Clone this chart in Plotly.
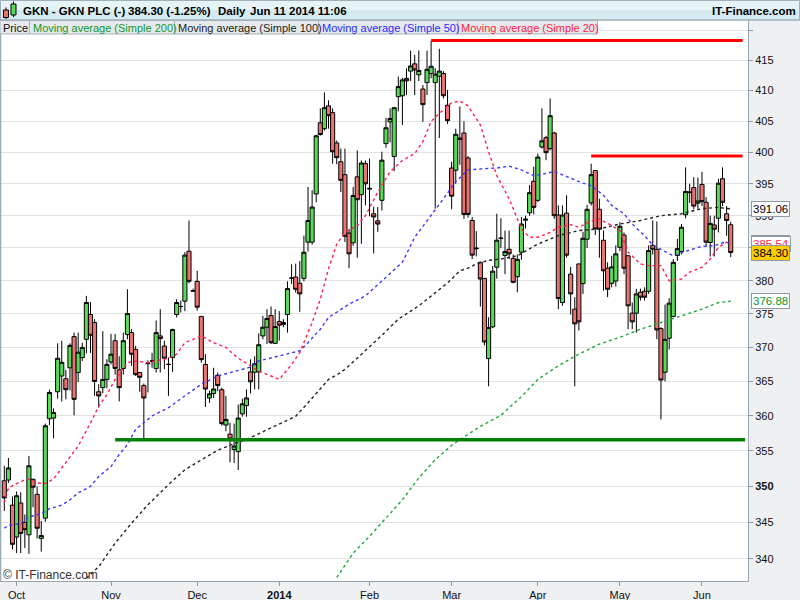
import math
import pandas as pd
import plotly.graph_objects as go

# ---------------- data ----------------
holidays = ["2013-12-25", "2013-12-26", "2014-01-01", "2014-04-18",
            "2014-04-21", "2014-05-05", "2014-05-26"]
dates = [d for d in pd.bdate_range("2013-09-26", "2014-06-11")
         if d.strftime("%Y-%m-%d") not in holidays]

opens = [350.8,350.9,347.4,343.0,347.7,345.0,343.3,351.0,348.9,342.8,
         345.6,359.6,359.7,363.5,365.8,365.4,367.0,371.6,366.3,368.5,
         371.2,374.9,373.7,363.5,364.1,365.3,367.85,371.0,366.7,366.9,
         371.9,372.2,369.7,366.3,364.4,367.6,368.0,366.9,371.7,370.2,
         367.5,368.5,374.9,376.1,376.9,384.5,378.4,379.9,374.6,367.5,
         362.6,363.25,365.9,363.8,358.7,357.4,355.2,354.9,360.3,361.5,
         366.4,366.35,366.4,371.7,373.0,374.75,370.6,373.85,373.4,374.9,
         380.4,380.55,379.6,380.35,385.9,385.9,393.4,404.75,403.8,407.5,
         406.4,401.5,398.5,396.45,387.3,385.8,396.1,393.3,398.2,394.3,
         390.3,389.2,392.4,401.4,404.9,399.35,409.0,409.15,412.0,413.2,
         414.4,412.6,410.25,411.3,412.8,411.3,412.35,412.8,407.6,397.5,
         397.15,402.3,403.1,399.1,389.25,385.0,382.8,380.35,368.35,373.05,
         382.05,386.5,383.85,384.8,383.4,380.6,384.35,389.3,390.45,395.4,
         392.4,400.85,402.35,400.6,403.1,390.1,376.7,390.4,381.0,375.7,
         382.55,379.55,386.35,392.0,397.1,391.0,386.2,381.9,379.6,379.95,
         385.1,387.0,383.8,375.1,375.1,378.25,378.4,378.4,385.4,384.8,
         372.8,366.35,371.35,374.6,383.85,384.45,390.15,393.6,394.4,391.95,
         394.9,392.1,385.85,388.55,389.6,395.8,390.3,388.6]
highs = [352.9,354.0,348.6,349.3,349.2,346.1,354.3,351.1,350.0,345.2,
         358.9,363.8,361.1,370.6,371.0,366.7,370.6,372.2,372.2,370.7,
         377.7,376.8,374.2,364.6,372.4,368.25,372.0,372.0,368.7,372.2,
         378.7,372.7,370.2,366.4,364.7,368.1,369.2,374.0,375.7,371.0,
         368.5,372.8,377.2,377.0,384.35,389.25,378.8,381.5,374.7,369.0,
         363.65,367.0,366.3,364.1,362.9,359.0,358.9,361.65,362.5,363.85,
         368.25,368.7,372.1,374.7,375.7,376.1,375.7,375.4,374.2,379.9,
         382.5,382.6,383.0,386.9,394.5,394.0,402.85,407.1,409.7,408.4,
         407.1,401.9,400.6,400.6,387.95,394.5,400.3,398.7,398.7,399.0,
         391.4,391.35,400.1,405.55,407.1,407.35,412.3,412.1,413.65,416.6,
         415.9,416.6,410.9,416.6,418.2,413.7,416.9,413.2,410.1,398.5,
         403.8,407.4,405.0,399.4,389.8,387.6,382.9,380.4,374.5,382.25,
         390.3,389.6,387.7,387.7,384.0,384.0,389.8,390.0,394.8,397.7,
         399.8,407.1,402.65,408.7,403.3,391.6,391.6,393.2,382.1,377.5,
         382.6,387.5,391.7,398.2,397.15,392.65,387.7,382.8,383.8,385.4,
         389.0,387.4,383.9,376.7,378.75,378.8,379.0,385.4,389.25,389.1,
         373.0,376.4,377.35,383.3,386.4,388.7,397.6,395.0,396.05,396.0,
         396.9,392.9,390.0,390.0,395.8,397.6,391.5,389.05]
lows = [346.6,350.5,341.3,340.8,340.8,341.5,340.7,347.1,342.8,341.0,
        345.1,358.7,356.8,362.5,362.1,362.4,363.7,360.1,364.9,368.0,
        369.1,369.2,362.9,361.2,363.3,364.0,367.5,366.0,362.1,366.0,
        371.2,367.3,365.8,363.5,356.7,363.4,367.0,366.3,366.3,366.8,
        362.9,366.4,374.45,375.2,375.4,379.6,378.3,375.5,367.75,361.3,
        361.9,362.6,363.6,358.6,357.8,353.4,353.3,352.3,359.9,359.9,
        363.25,363.85,363.85,371.2,370.5,370.5,370.5,371.0,373.0,372.2,
        379.5,378.2,375.3,379.9,384.45,385.5,392.1,402.7,403.5,403.8,
        398.2,398.1,393.7,385.9,381.9,385.35,383.5,385.65,391.6,389.9,
        384.15,387.5,390.8,400.75,401.6,397.0,406.6,404.4,409.25,411.55,
        409.25,411.55,404.9,409.25,412.0,391.1,402.3,408.7,404.55,391.0,
        395.0,398.0,389.5,389.7,383.3,383.7,376.1,370.3,364.3,372.85,
        380.3,385.0,381.0,383.3,379.6,378.25,383.2,388.0,390.0,390.2,
        392.1,400.6,398.75,400.3,389.5,375.7,376.2,383.5,374.9,364.3,
        372.5,378.0,385.0,391.6,387.0,383.5,378.5,377.5,379.0,379.1,
        384.5,381.0,372.7,372.7,372.2,377.0,377.0,378.0,384.0,371.2,
        359.5,365.0,369.7,374.5,383.0,384.0,389.6,392.0,391.0,391.0,
        391.5,385.2,383.7,383.7,387.4,391.5,386.9,383.6]
closes = [348.4,352.6,342.0,348.7,343.5,344.0,352.9,349.9,344.2,343.2,
          358.6,363.4,360.5,368.4,367.8,363.8,370.3,362.4,369.3,370.0,
          376.7,371.8,365.0,362.9,365.3,367.5,369.0,366.9,364.1,371.0,
          375.05,369.0,366.0,365.6,362.6,367.7,368.0,372.2,371.3,368.4,
          367.5,372.65,376.7,376.1,383.9,379.9,378.5,376.0,368.2,363.9,
          363.2,363.9,364.4,358.9,359.5,356.7,355.7,359.7,361.75,362.6,
          364.95,367.6,370.4,373.0,374.3,370.7,373.1,373.3,373.7,378.8,
          380.4,378.7,378.0,384.35,389.25,391.35,402.65,402.85,407.2,405.9,
          400.1,399.15,395.55,386.8,384.1,393.15,392.5,398.3,395.0,394.2,
          389.8,388.7,398.75,403.95,405.45,407.2,410.65,411.75,411.6,414.05,
          413.4,413.3,407.7,413.5,414.0,412.7,413.2,409.15,405.1,393.05,
          402.9,402.1,390.2,390.2,383.9,384.9,380.25,370.8,372.95,381.45,
          386.2,386.5,384.45,384.1,379.75,383.25,388.7,389.45,393.6,391.3,
          399.25,401.85,399.95,405.9,390.0,377.3,390.1,383.9,378.0,373.5,
          373.8,386.5,391.0,396.45,387.95,387.9,381.5,378.7,382.1,384.1,
          388.35,381.9,376.2,373.8,378.0,377.5,377.5,384.6,384.8,372.6,
          365.2,371.2,376.6,382.8,384.9,388.2,393.8,393.7,391.5,392.3,
          392.2,385.9,388.8,387.9,395.1,392.1,389.25,384.3]

# moving averages (bar index, value)
ma20_idx = [0,1,4,6,8,10,12,14,16,18,21,23,25,27,30,32,35,37,40,42,44,48,51,54,57,
            60,62,65,67,70,72,75,77,79,81,83,86,88,91,94,97,100,102,104,107,109,
            111,113,116,118,120,123,126,128,130,133,135,138,140,143,145,148,150,
            152,155,157,160,162,165,167,170,172,174,176,177]
ma20_val = [347.7,349.8,350.7,351.05,350.5,350.4,351.05,352.6,354.0,355.7,359.0,361.4,
            363.1,365.3,367.75,368.0,367.75,368.0,368.4,369.0,370.7,371.7,370.7,370.0,
            368.4,367.3,366.5,365.8,365.3,367.5,369.25,373.7,377.2,381.8,385.6,387.4,
            388.45,390.0,393.7,396.9,398.7,399.8,401.7,405.0,406.9,408.0,408.3,407.5,
            404.4,400.1,396.3,392.65,387.95,386.65,386.65,387.4,388.2,388.6,388.2,
            389.2,389.5,388.45,387.7,384.35,382.55,382.3,382.3,380.0,380.25,381.3,
            382.05,383.3,385.1,385.9,385.54]
ma50_idx = [0,1,4,6,9,11,14,16,18,21,23,26,28,30,32,36,40,44,48,52,56,60,62,67,72,
            74,77,79,82,84,88,93,97,100,104,107,110,113,117,120,123,126,129,131,134,
            136,139,141,143,146,148,151,153,156,158,161,163,165,168,170,173,175,177]
ma50_val = [344.2,344.6,344.85,345.75,346.2,346.9,347.4,348.14,349.1,350.0,351.4,
            352.8,354.5,355.9,358.06,360.0,361.2,362.9,364.6,365.8,366.5,367.1,368.0,
            368.7,369.5,370.7,372.7,374.45,375.7,376.45,377.7,380.5,382.8,386.65,
            390.0,392.65,395.35,397.2,397.4,397.5,397.8,397.2,396.3,396.5,396.95,
            396.4,395.6,395.1,394.7,393.2,391.6,390.3,388.7,386.9,385.45,384.4,
            383.8,384.3,384.85,385.25,385.35,385.8,385.8]
ma100_idx = [20,23,27,31,35,40,44,48,52,56,59,65,71,74,77,79,82,84,92,96,101,105,
             108,111,113,115,118,121,125,130,135,140,145,150,155,160,165,170,174,177]
ma100_val = [337.4,338.95,342.15,344.9,347.44,350.25,352.36,353.77,355.1,356.05,
             356.62,358.3,359.95,361.9,363.84,365.3,366.3,367.3,371.8,374.2,376.2,
             378.2,379.65,381.5,381.9,382.55,383.1,383.3,383.8,385.6,386.9,387.7,
             387.95,388.7,389.25,390.0,390.3,391.1,391.3,391.06]
ma200_idx = [81,85,89,93,97,101,105,109,111,116,121,126,130,135,140,145,150,155,
             160,165,170,174,177]
ma200_val = [337.5,340.8,343.1,345.6,348.14,351.2,353.77,355.8,356.62,358.5,360.1,
             362.8,365.3,367.3,369.0,370.5,371.5,372.7,373.7,374.7,375.7,376.7,376.88]

# horizontal levels drawn by the analyst: start bar, end bar, price
level_start = [104, 143, 27]
level_end = [179.9, 179.9, 180.5]
level_price = [418.3, 399.4, 356.6]
level_color = ["#ff0000", "#ff0000", "#008000"]
level_width = [3, 3, 3.5]

month_keys = ["2013-10", "2013-11", "2013-12", "2014-01", "2014-02",
              "2014-03", "2014-04", "2014-05", "2014-06"]
month_labels = ["Oct", "Nov", "Dec", "<b>2014</b>", "Feb", "Mar", "Apr", "May", "Jun"]

price_ticks = [340, 345, 350, 355, 360, 365, 370, 375, 380, 385, 390, 395,
               400, 405, 410, 415, 420]
price_tick_text = ["340", "345", "<b>350</b>", "355", "360", "365", "370", "375",
                   "380", "385", "390", "395", "400", "405", "410", "415", ""]

last_values = {"ma100": 391.06, "ma50": 385.8, "ma20": 385.54, "close": 384.30, "ma200": 376.88}

for arr in (opens, highs, lows, closes):
    assert len(arr) == len(dates), (len(arr), len(dates))
assert len(ma20_idx) == len(ma20_val)
assert len(ma50_idx) == len(ma50_val)
assert len(ma100_idx) == len(ma100_val)
assert len(ma200_idx) == len(ma200_val)

# ---------------- figure ----------------
W, H = 800, 600
ML, MR, MT, MB = 0, 52, 20, 19
PW, PH = W - ML - MR, H - MT - MB


def px(xp):
    return (xp - ML) / PW


def py(yp):
    return (H - MB - yp) / PH


xi = list(range(len(dates)))
month_pos = []
for k in month_keys:
    month_pos.append(next(i for i, d in enumerate(dates) if d.strftime("%Y-%m") == k))

fig = go.Figure()

ma_specs = [
    (ma200_idx, ma200_val, "#1fa83a"),
    (ma100_idx, ma100_val, "#222222"),
    (ma50_idx, ma50_val, "#3a3aff"),
    (ma20_idx, ma20_val, "#ff2050"),
]

fig.add_trace(go.Candlestick(
    x=xi, open=opens, high=highs, low=lows, close=closes,
    increasing=dict(fillcolor="#5ad85a", line=dict(color="#000000", width=1)),
    decreasing=dict(fillcolor="#ea7471", line=dict(color="#000000", width=1)),
    whiskerwidth=0, showlegend=False, hoverinfo="skip"))

for idx, val, col in ma_specs:
    fig.add_trace(go.Scatter(x=idx, y=val, mode="lines",
                             line=dict(color=col, width=1.4, dash="3px,3px"),
                             showlegend=False, hoverinfo="skip"))

for s, e, p, c, w in zip(level_start, level_end, level_price, level_color, level_width):
    fig.add_trace(go.Scatter(x=[s, e], y=[p, p], mode="lines",
                             line=dict(color=c, width=w),
                             showlegend=False, hoverinfo="skip"))

shapes = []
annotations = []

# left border
shapes.append(dict(type="line", xref="paper", yref="paper", x0=px(0.5), x1=px(0.5),
                   y0=0, y1=1, line=dict(color="#9aa8b2", width=1.5)))
# header bar
shapes.append(dict(type="rect", xref="paper", yref="paper", x0=px(0), x1=px(800),
                   y0=py(20), y1=py(10), fillcolor="#d6eaf1", line=dict(width=0)))
shapes.append(dict(type="rect", xref="paper", yref="paper", x0=px(0), x1=px(800),
                   y0=py(10), y1=py(0), fillcolor="#e6f4f8", line=dict(width=0)))
shapes.append(dict(type="line", xref="paper", yref="paper", x0=px(0), x1=px(800),
                   y0=py(20), y1=py(20), line=dict(color="#9fb0ba", width=1)))
shapes.append(dict(type="rect", xref="paper", yref="paper", x0=px(0.5), x1=px(799.5),
                   y0=py(20), y1=py(0.5), line=dict(color="#9fb0ba", width=1)))
# icon
shapes.append(dict(type="line", xref="paper", yref="paper", x0=px(6), x1=px(6),
                   y0=py(19), y1=py(7.5), line=dict(color="#000", width=1)))
shapes.append(dict(type="rect", xref="paper", yref="paper", x0=px(3.5), x1=px(8.5),
                   y0=py(17.5), y1=py(10), fillcolor="#ea7471", line=dict(color="#000", width=1)))
shapes.append(dict(type="line", xref="paper", yref="paper", x0=px(13.5), x1=px(13.5),
                   y0=py(17), y1=py(1.5), line=dict(color="#000", width=1)))
shapes.append(dict(type="rect", xref="paper", yref="paper", x0=px(11), x1=px(16),
                   y0=py(15), y1=py(4), fillcolor="#5ad85a", line=dict(color="#000", width=1)))

# legend boxes
legend_items = [("Price", "#111111", 0, 29.5),
                ("Moving average (Simple 200)", "#12962a", 29.5, 174.5),
                ("Moving average (Simple 100)", "#222222", 174.5, 318.5),
                ("Moving average (Simple 50)", "#2a2aff", 318.5, 458),
                ("Moving average (Simple 20)", "#ff1c44", 458, 597.5)]
for text, col, x0, x1 in legend_items:
    shapes.append(dict(type="rect", xref="paper", yref="paper", x0=px(x0), x1=px(x1),
                       y0=py(34), y1=py(20.5), fillcolor="#e5e9ec",
                       line=dict(color="#a6b1b9", width=1), layer="above"))
    annotations.append(dict(xref="paper", yref="paper", x=px(x0 + 1), y=py(27.5),
                            text=text, showarrow=False, xanchor="left", yanchor="middle",
                            font=dict(family="Liberation Sans, Arial", size=11, color=col)))

# header texts
hfont = dict(family="Liberation Sans, Arial", size=11.5, color="#000")
for text, x in [("<b>GKN - GKN PLC (-)</b>", 21), ("<b>384.30 (-1.25%)</b>", 126),
                ("<b>Daily</b>", 216), ("<b>Jun 11 2014 11:06</b>", 248)]:
    annotations.append(dict(xref="paper", yref="paper", x=px(x), y=py(10.5), text=text,
                            showarrow=False, xanchor="left", yanchor="middle", font=hfont))
annotations.append(dict(xref="paper", yref="paper", x=px(798), y=py(10.5),
                        text="<b>IT-Finance.com</b>", showarrow=False, xanchor="right",
                        yanchor="middle", font=hfont))
# watermark
annotations.append(dict(xref="paper", yref="paper", x=px(1), y=py(575),
                        text="© IT-Finance.com", showarrow=False, xanchor="left",
                        yanchor="middle",
                        font=dict(family="Liberation Sans, Arial", size=12, color="#333")))

# last-value labels on the price axis
lab_font = "Liberation Sans, Arial"
for key, col, bg in [("ma100", "#000000", "#ffffff"), ("ma200", "#0a9a2a", "#ffffff"),
                     ("ma50", "#2a2aff", "#ffffff"), ("ma20", "#ff1c44", "#ffffff"),
                     ("close", "#000000", "#ffcc00")]:
    v = last_values[key]
    annotations.append(dict(xref="paper", yref="y", x=1.0, xshift=3, y=math.log10(v),
                            text=f"{v:.2f}", showarrow=False, xanchor="left",
                            yanchor="middle", bgcolor=bg, bordercolor="#8f9ba4",
                            borderwidth=1, borderpad=1,
                            font=dict(family=lab_font, size=11.5, color=col)))

fig.update_layout(
    width=W, height=H,
    margin=dict(l=ML, r=MR, t=MT, b=MB, pad=0),
    paper_bgcolor="#eef0f1", plot_bgcolor="#ffffff",
    boxgap=0.0, boxgroupgap=0.0,
    showlegend=False,
    shapes=shapes, annotations=annotations,
    xaxis=dict(range=[-1.048, 181.21], rangeslider=dict(visible=False),
               showgrid=False, zeroline=False, tickmode="array",
               tickvals=month_pos, ticktext=month_labels,
               ticks="outside", ticklen=4, tickcolor="#8f9ba4",
               showline=True, linecolor="#9aa6ae", linewidth=1,
               tickfont=dict(family="Liberation Sans, Arial", size=11, color="#111")),
    yaxis=dict(type="log", range=[2.527659, 2.625031], side="right",
               tickmode="array", tickvals=price_ticks, ticktext=price_tick_text,
               showgrid=True, gridcolor="#e2e2e2", gridwidth=1, zeroline=False,
               ticks="outside", ticklen=4, tickcolor="#8f9ba4",
               showline=True, linecolor="#9aa6ae", linewidth=1,
               tickfont=dict(family="Liberation Sans, Arial", size=11, color="#111")),
)

fig.write_html("out.html", config={"displayModeBar": False},
               post_script="document.body.style.margin='0';"
                           "document.body.style.overflow='hidden';")
